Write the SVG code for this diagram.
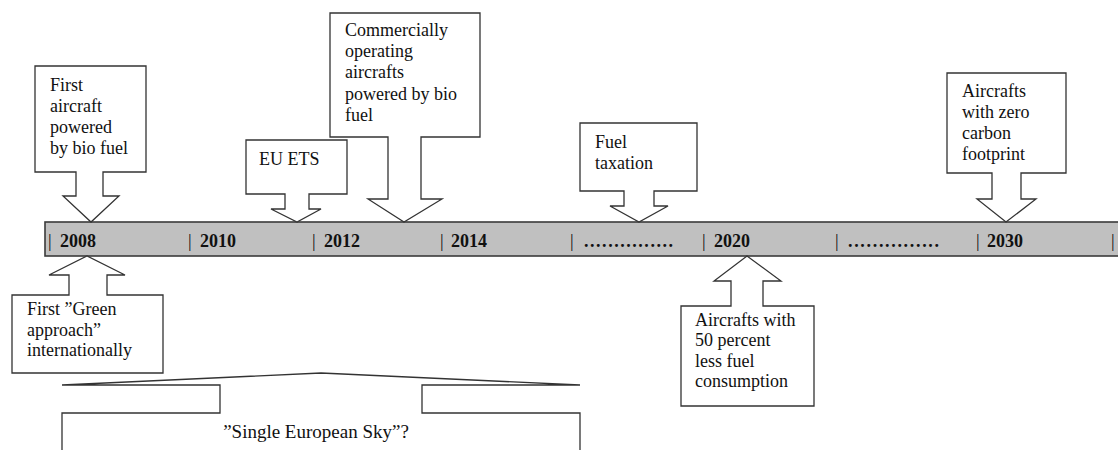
<svg xmlns="http://www.w3.org/2000/svg" width="1118" height="450" viewBox="0 0 1118 450">
  <style>
    .co { fill: #ffffff; stroke: #333333; stroke-width: 1.3; stroke-linejoin: miter; }
    text { font-family: 'Liberation Serif', 'DejaVu Serif', 'Times New Roman', serif; fill: #111111; }
    .lbl { font-size: 18px; }
    .yr { font-size: 18px; font-weight: bold; }
    .pipe { font-size: 18px; }
    .bar { fill: #c0c0c0; stroke: #3a3a3a; stroke-width: 1.6; }
  </style>

  <!-- timeline bar with year ticks -->
  <g id="timeline" font-family="Liberation Serif, serif">
    <rect class="bar" x="45" y="222" width="1090" height="34"/>
    <text class="pipe" x="48" y="247">|</text><text class="yr" x="60" y="247">2008</text>
    <text class="pipe" x="188" y="247">|</text><text class="yr" x="200" y="247">2010</text>
    <text class="pipe" x="312" y="247">|</text><text class="yr" x="324" y="247">2012</text>
    <text class="pipe" x="440" y="247">|</text><text class="yr" x="451" y="247">2014</text>
    <text class="pipe" x="570" y="247">|</text><text class="yr" x="584" y="247" textLength="89" lengthAdjust="spacing">...............</text>
    <text class="pipe" x="702" y="247">|</text><text class="yr" x="714" y="247">2020</text>
    <text class="pipe" x="835" y="247">|</text><text class="yr" x="848" y="247" textLength="91" lengthAdjust="spacing">...............</text>
    <text class="pipe" x="976" y="247">|</text><text class="yr" x="987" y="247">2030</text>
    <text class="pipe" x="1111" y="247">|</text>
  </g>

  <!-- callouts pointing down onto the bar -->
  <g id="first-biofuel-flight">
    <path class="co" d="M35,66 H146 V172 H103 V196 H119 L91,222 L63,196 H76 V172 H35 Z"/>
    <text class="lbl" x="50" y="91">First</text>
    <text class="lbl" x="50" y="112">aircraft</text>
    <text class="lbl" x="50" y="133">powered</text>
    <text class="lbl" x="50" y="154">by bio fuel</text>
  </g>

  <g id="eu-ets">
    <path class="co" d="M246,140 H347 V194 H309 V209 H321 L297,222 L271,209 H285 V194 H246 Z"/>
    <text class="lbl" x="259" y="165">EU ETS</text>
  </g>

  <g id="commercial-biofuel">
    <path class="co" d="M330,13 H480 V137 H421 V199 H442 L404,222 L368,199 H388 V137 H330 Z"/>
    <text class="lbl" x="345" y="36">Commercially</text>
    <text class="lbl" x="345" y="57">operating</text>
    <text class="lbl" x="345" y="78">aircrafts</text>
    <text class="lbl" x="345" y="99.5">powered by bio</text>
    <text class="lbl" x="345" y="120.5">fuel</text>
  </g>

  <g id="fuel-taxation">
    <path class="co" d="M580,123 H697 V191 H654 V206 H668 L639,222 L610,206 H624 V191 H580 Z"/>
    <text class="lbl" x="595" y="148">Fuel</text>
    <text class="lbl" x="595" y="169">taxation</text>
  </g>

  <g id="zero-carbon">
    <path class="co" d="M947,73 H1066 V173 H1021 V199 H1036 L1006,222 L977,199 H992 V173 H947 Z"/>
    <text class="lbl" x="962" y="97">Aircrafts</text>
    <text class="lbl" x="962" y="118">with zero</text>
    <text class="lbl" x="962" y="139">carbon</text>
    <text class="lbl" x="962" y="160">footprint</text>
  </g>

  <!-- callouts pointing up at the bar -->
  <g id="green-approach">
    <path class="co" d="M12,373 H163 V295 H107 V275 H125 L87,256 L49,275 H69 V295 H12 Z"/>
    <text class="lbl" x="27" y="315">First ”Green</text>
    <text class="lbl" x="27" y="336">approach”</text>
    <text class="lbl" x="27" y="356">internationally</text>
  </g>

  <g id="half-fuel">
    <path class="co" d="M681,406 H814 V306 H763 V281 H781 L747,256 L714,281 H731 V306 H681 Z"/>
    <text class="lbl" x="695" y="326">Aircrafts with</text>
    <text class="lbl" x="695" y="346">50 percent</text>
    <text class="lbl" x="695" y="367">less fuel</text>
    <text class="lbl" x="695" y="387">consumption</text>
  </g>

  <!-- wide, flat-headed callout running off the bottom edge -->
  <g id="single-european-sky">
    <path class="co" d="M62,470 V413 H220 V385 H62 L321,373 L580,385 H422 V413 H580 V470 Z"/>
    <text class="lbl" x="316" y="438" text-anchor="middle" style="font-size:19px">”Single European Sky”?</text>
  </g>
</svg>
